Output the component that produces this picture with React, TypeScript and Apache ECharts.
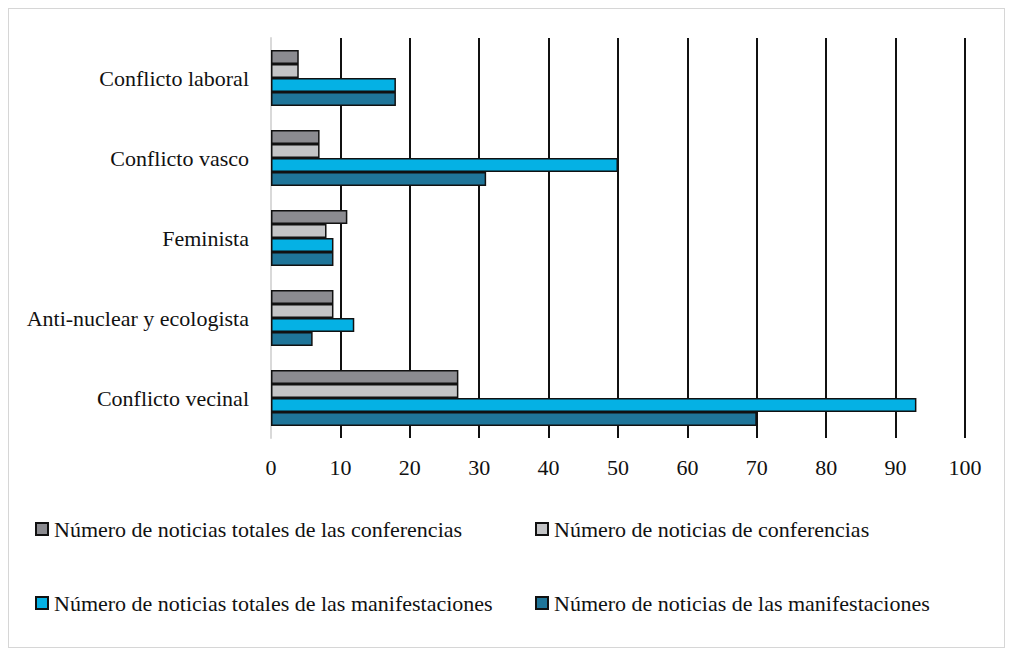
import React, { useEffect, useRef } from "react";
import * as echarts from "echarts";

const categories = [
  "Conflicto vecinal",
  "Anti-nuclear y ecologista",
  "Feminista",
  "Conflicto vasco",
  "Conflicto laboral",
];

const seriesNames = [
  "Número de noticias totales de las conferencias",
  "Número de noticias de conferencias",
  "Número de noticias totales de las manifestaciones",
  "Número de noticias de las manifestaciones",
];

const totalesConferencias = [27, 9, 11, 7, 4];
const conferencias = [27, 9, 8, 7, 4];
const totalesManifestaciones = [93, 12, 9, 50, 18];
const manifestaciones = [70, 6, 9, 31, 18];

const colors = ["#8b8b90", "#c3c4c6", "#05b1e4", "#1f7599"];
const FONT = "'Liberation Serif', 'Times New Roman', serif";

export default function App() {
  const ref = useRef<HTMLDivElement>(null);
  useEffect(() => {
    const chart = echarts.init(ref.current!, undefined, { renderer: "svg" });
    const values = [totalesConferencias, conferencias, totalesManifestaciones, manifestaciones];
    const series = [0, 1, 2, 3].map((i) => ({
      name: seriesNames[i],
      type: "bar",
      data: values[i],
      barGap: "0%",
      barCategoryGap: "30%",
      itemStyle: { color: colors[i], borderColor: "#111", borderWidth: 1.5 },
    }));
    const legendText = { color: "#111", fontFamily: FONT, fontSize: 22, lineHeight: 22, padding: [0, 0, 0, 1] };
    chart.setOption({
      animation: false,
      grid: { left: 262, right: 39, top: 29, height: 400 },
      xAxis: {
        type: "value",
        min: 0,
        max: 100,
        interval: 10,
        axisLine: { show: false },
        axisTick: { show: false },
        axisLabel: { color: "#111", fontFamily: FONT, fontSize: 22, margin: 18 },
        splitLine: { show: true, showMinLine: false, lineStyle: { color: "#111", width: 2 } },
      },
      yAxis: {
        type: "category",
        data: categories,
        axisLine: { show: true, lineStyle: { color: "#d9d9d9", width: 2 } },
        axisTick: { show: false },
        axisLabel: { color: "#111", fontFamily: FONT, fontSize: 22, margin: 22, padding: [7, 0, 0, 0] },
      },
      legend: [
        {
          orient: "vertical",
          left: 21,
          top: 504,
          itemGap: 52,
          itemWidth: 12,
          itemHeight: 12,
          icon: "rect",
          data: [seriesNames[0], seriesNames[2]],
          textStyle: legendText,
        },
        {
          orient: "vertical",
          left: 521,
          top: 504,
          itemGap: 52,
          itemWidth: 12,
          itemHeight: 12,
          icon: "rect",
          data: [seriesNames[1], seriesNames[3]],
          textStyle: legendText,
        },
      ],
      series,
    });
    return () => chart.dispose();
  }, []);
  return (
    <div style={{ width: 997, height: 640, border: "1px solid #d6d6d6", boxSizing: "border-box" }}>
      <div ref={ref} style={{ width: 995, height: 638 }} />
    </div>
  );
}
